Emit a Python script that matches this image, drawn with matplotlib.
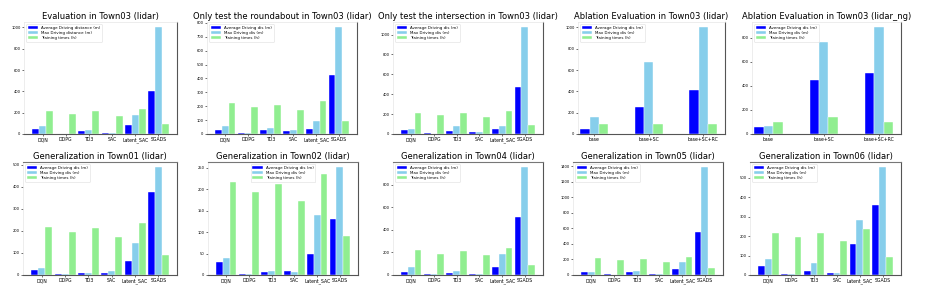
import matplotlib
matplotlib.use("Agg")
import matplotlib.pyplot as plt
import numpy as np

algos = ["DQN", "DDPG", "TD3", "SAC", "Latent_SAC", "SGADS"]
ablation = ["base", "base+SC", "base+SC+RC"]

# Evaluation in Town03 (lidar)
eval_avg = [44, 2, 25, 10, 84, 402]
eval_max = [75, 2, 40, 8, 180, 1000]
eval_train = [218, 190, 216, 168, 234, 90]

# Only test the roundabout
round_avg = [31, 8, 26, 19, 36, 422]
round_max = [55, 5, 40, 26, 95, 768]
round_train = [220, 191, 212, 174, 239, 95]

# Only test the intersection
inter_avg = [40, 8, 27, 17, 50, 472]
inter_max = [50, 3, 80, 20, 80, 1073]
inter_train = [216, 189, 216, 170, 236, 93]

# Ablation (lidar)
abl_avg = [47, 249, 408]
abl_max = [159, 676, 1000]
abl_train = [97, 97, 90]

# Ablation (lidar_ng)
abl_ng_avg = [58, 449, 504]
abl_ng_max = [68, 762, 885]
abl_ng_train = [101, 140, 101]

# Generalization
t01_avg = [21, 3, 8, 11, 63, 375]
t01_max = [32, 3, 8, 17, 144, 489]
t01_train = [220, 196, 214, 174, 235, 92]

t02_avg = [30, 3, 7, 8.6, 49, 130]
t02_max = [39, 3, 10, 8, 141, 251]
t02_train = [218, 193, 212, 172, 235, 91]

t04_avg = [24, 5, 21, 8, 68, 509]
t04_max = [74, 5, 33, 12, 190, 952]
t04_train = [217, 190, 211, 173, 238, 89]

t05_avg = [35, 9, 35, 13, 74, 559]
t05_max = [35, 5, 48, 17, 165, 1387]
t05_train = [217, 191, 212, 165, 230, 87]

t06_avg = [45, 3, 22, 12, 159, 357]
t06_max = [84, 3, 64, 12, 283, 552]
t06_train = [217, 193, 214, 172, 236, 91]

lab_long = ["Average Driving distance (m)", "Max Driving distance (m)", "Training times (h)"]
lab_short = ["Average Driving dis (m)", "Max Driving dis (m)", "Training times (h)"]

W, H = 926, 296
fig = plt.figure(figsize=(W / 100, H / 100), dpi=100)

def box(l, r, t, b):
    return [l / W, 1 - b / H, (r - l) / W, (b - t) / H]

panels = [
    ("Evaluation in Town03 (lidar)", algos, eval_avg, eval_max, eval_train, lab_long, box(24, 177, 22, 134), "upper left", 0),
    ("Only test the roundabout in Town03 (lidar)", algos, round_avg, round_max, round_train, lab_short, box(207, 357, 22, 134), "upper left", 0),
    ("Only test the intersection in Town03 (lidar)", algos, inter_avg, inter_max, inter_train, lab_short, box(393, 543, 22, 134), "upper left", 0),
    ("Ablation Evaluation in Town03 (lidar)", ablation, abl_avg, abl_max, abl_train, lab_short, box(578, 725, 22, 134), "upper left", 0),
    ("Ablation Evaluation in Town03 (lidar_ng)", ablation, abl_ng_avg, abl_ng_max, abl_ng_train, lab_short, box(752, 901, 22, 134), "upper left", 0),
    ("Generalization in Town01 (lidar)", algos, t01_avg, t01_max, t01_train, lab_short, box(23, 177, 162, 275), "upper left", 1),
    ("Generalization in Town02 (lidar)", algos, t02_avg, t02_max, t02_train, lab_short, box(208, 358, 162, 275), "upper center", 1),
    ("Generalization in Town04 (lidar)", algos, t04_avg, t04_max, t04_train, lab_short, box(393, 543, 162, 275), "upper left", 1),
    ("Generalization in Town05 (lidar)", algos, t05_avg, t05_max, t05_train, lab_short, box(573, 723, 162, 275), "upper left", 1),
    ("Generalization in Town06 (lidar)", algos, t06_avg, t06_max, t06_train, lab_short, box(750, 901, 162, 275), "upper left", 1),
]

colors = ["#0000ff", "#87ceeb", "#90ee90"]

for title, cats, a, m, t, labs, rect, loc, row in panels:
    ax = fig.add_axes(rect)
    x = np.arange(len(cats))
    w = 0.3 if len(cats) > 3 else 0.17
    for i, (vals, c, lb) in enumerate(zip([a, m, t], colors, labs)):
        ax.bar(x + (i - 1) * w, vals, w, color=c, label=lb, edgecolor="white", linewidth=0.3)
    ax.set_xticks(x)
    ax.set_xticklabels(cats, fontsize=3.3)
    ax.tick_params(axis="y", labelsize=2.6, length=1.5, width=0.4, pad=1)
    ax.tick_params(axis="x", length=1.5, width=0.4, pad=1)
    if len(cats) > 3:
        ax.set_xlim(-0.8, 5.8)
    else:
        ax.set_xlim(-0.3, 2.4)
    ax.set_title(title, fontsize=6.0, pad=2)
    ax.legend(loc=loc, fontsize=2.9, handlelength=2.6, handleheight=0.8,
              borderpad=0.4, labelspacing=0.3, frameon=True, framealpha=1,
              edgecolor="#dddddd").get_frame().set_linewidth(0.4)
    for s in ["right", "bottom"]:
        ax.spines[s].set_color("#555555")
        ax.spines[s].set_linewidth(0.8)
    ax.spines["left"].set_color("#e6e6e6")
    ax.spines["left"].set_linewidth(0.5)
    ax.spines["top"].set_color("#e6e6e6" if row == 0 else "#777777")
    ax.spines["top"].set_linewidth(0.5 if row == 0 else 0.8)

fig.savefig("out.png", dpi=100, facecolor="white")
